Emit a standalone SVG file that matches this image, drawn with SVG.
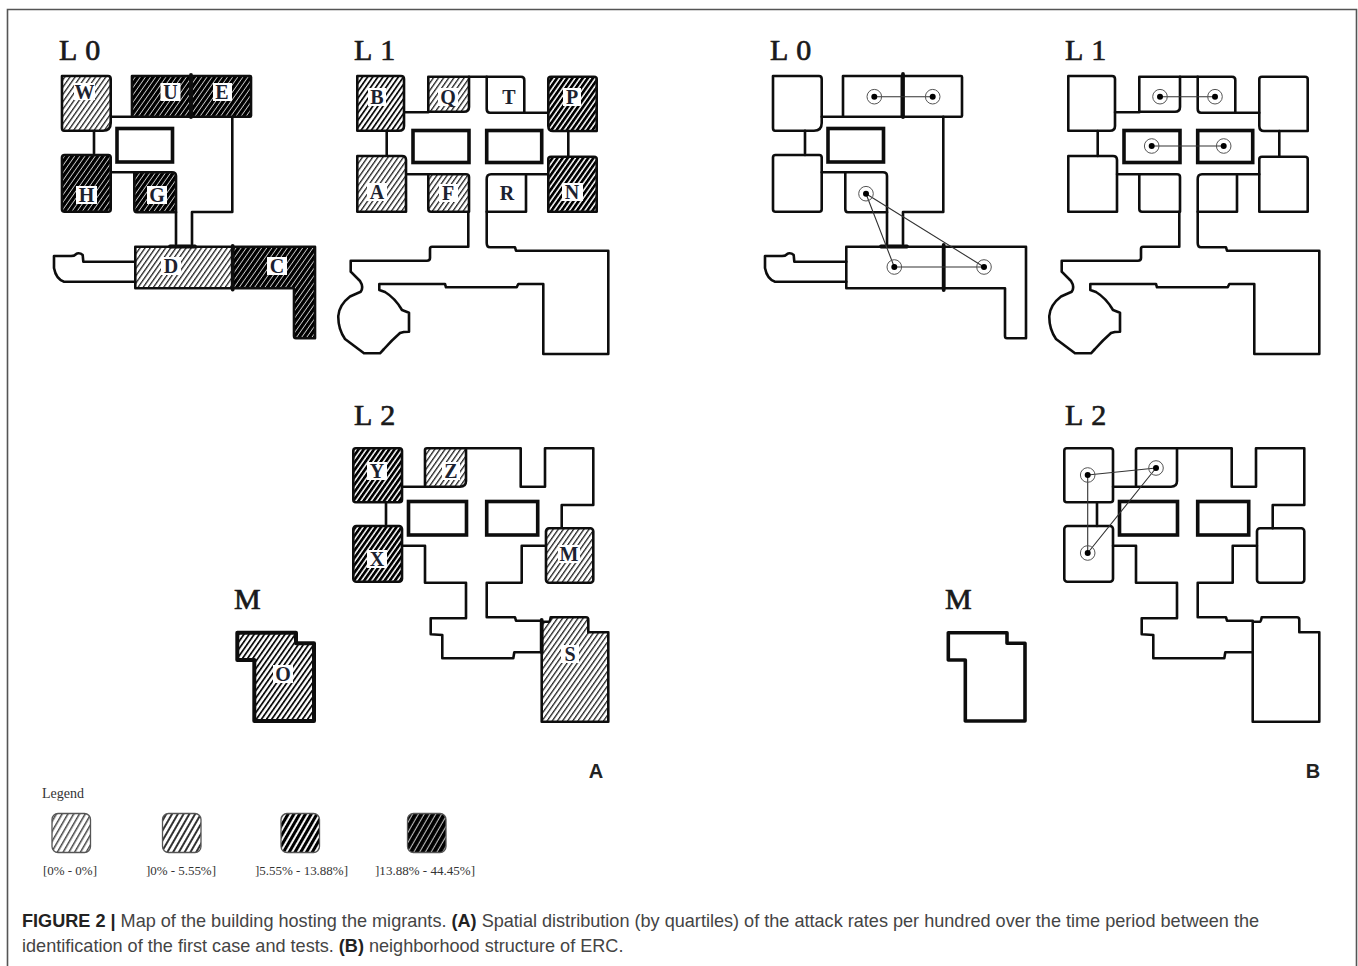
<svg xmlns="http://www.w3.org/2000/svg" width="1358" height="966" viewBox="0 0 1358 966">
<style>
.wall{fill:none;stroke:#111;stroke-width:2.6;stroke-linejoin:round;stroke-linecap:round}
.thick{fill:none;stroke:#0a0a0a;stroke-width:3.6;stroke-linejoin:miter}
.bar{fill:none;stroke:#0a0a0a;stroke-width:3.8}
.soft{filter:url(#soft)}
.head{font-family:"Liberation Serif",serif;font-size:30px;letter-spacing:.8px;fill:#1a1a1a;stroke:#1a1a1a;stroke-width:.7}
.lab{font-family:"Liberation Serif",serif;font-weight:bold;font-size:20px;fill:#1c2230;text-anchor:middle}
.box{fill:#fff}
.leg{font-family:"Liberation Serif",serif;font-size:13px;fill:#333}
.pan{font-family:"Liberation Sans",sans-serif;font-weight:bold;font-size:20px;fill:#222;text-anchor:middle}
.cap{font-family:"Liberation Sans",sans-serif;font-size:18.1px;fill:#444}
.cap .b{font-weight:bold;fill:#222}
.edge{stroke:#333;stroke-width:1.1;fill:none}
.ring{fill:none;stroke:#555;stroke-width:1}
.dot{fill:#000}
.sw{stroke:#555;stroke-width:1.3}
</style>
<defs>
<filter id="soft" x="-2%" y="-2%" width="104%" height="104%"><feGaussianBlur stdDeviation="0.45"/></filter>
<pattern id="h0" width="4.200" height="4.200" patternUnits="userSpaceOnUse" patternTransform="rotate(35)"><rect width="4.200" height="4.200" fill="#fff"/><rect width="1.300" height="4.200" fill="#222"/></pattern>
<pattern id="h1" width="4.200" height="4.200" patternUnits="userSpaceOnUse" patternTransform="rotate(35)"><rect width="4.200" height="4.200" fill="#fff"/><rect width="1.800" height="4.200" fill="#111"/></pattern>
<pattern id="h2" width="4.200" height="4.200" patternUnits="userSpaceOnUse" patternTransform="rotate(35)"><rect width="4.200" height="4.200" fill="#fff"/><rect width="2.700" height="4.200" fill="#000"/></pattern>
<pattern id="h3" width="4.200" height="4.200" patternUnits="userSpaceOnUse" patternTransform="rotate(35)"><rect width="4.200" height="4.200" fill="#ccc"/><rect width="3.300" height="4.200" fill="#000"/></pattern>
<pattern id="l0" width="5" height="5" patternUnits="userSpaceOnUse" patternTransform="rotate(30)"><rect width="5" height="5" fill="#fff"/><rect width="1.500" height="5" fill="#444"/></pattern>
<pattern id="l1" width="5" height="5" patternUnits="userSpaceOnUse" patternTransform="rotate(30)"><rect width="5" height="5" fill="#fff"/><rect width="2" height="5" fill="#333"/></pattern>
<pattern id="l2" width="5" height="5" patternUnits="userSpaceOnUse" patternTransform="rotate(30)"><rect width="5" height="5" fill="#fff"/><rect width="3.100" height="5" fill="#000"/></pattern>
<pattern id="l3" width="5" height="5" patternUnits="userSpaceOnUse" patternTransform="rotate(30)"><rect width="5" height="5" fill="#bbb"/><rect width="3.900" height="5" fill="#000"/></pattern>

<!-- room shapes -->
<path id="rW" d="M62 76H108Q110.700 76 110.700 79V123Q110.700 130.700 103 130.700H64Q62 130.700 62 128Z"/>
<rect id="rU" x="132" y="76" width="59" height="40.700"/>
<rect id="rE" x="191" y="76" width="60" height="40.700" rx="1"/>
<rect id="rH" x="62" y="155" width="48.700" height="56.700" rx="2.500"/>
<path id="rG" d="M134.300 172.300H172Q176 172.300 176 176V212.300H137Q134.300 212.300 134.300 209Z"/>
<rect id="rD" x="135.300" y="246.700" width="97.400" height="41.600"/>
<path id="rC" d="M232.700 246.700H315V338.300H296Q294 338.300 294 336V288.300H232.700Z"/>
<path id="rB" d="M357.300 76H401Q404 76 404 79V126Q404 130.700 399 130.700H357.300Z"/>
<path id="rQ" d="M428.300 76.700H469V107Q469 111.700 464 111.700H428.300Z"/>
<path id="rT" d="M486.700 76.700H521Q524.300 76.700 524.300 80V112.700H490Q486.700 112.700 486.700 109Z"/>
<path id="rP" d="M551 76.700H594Q596.700 76.700 596.700 79V131H553Q548.300 131 548.300 126V79Q548.300 76.700 551 76.700Z"/>
<path id="rA" d="M357.300 156H402Q406 156 406 160V211.700H357.300Z"/>
<path id="rF" d="M428.300 174.300H466Q469 174.300 469 177V211.700H431Q428.300 211.700 428.300 209Z"/>
<path id="rR" d="M491 174.300H526V211.700H486.700V179Q486.700 174.300 491 174.300Z"/>
<path id="rN" d="M551 156.700H594Q596.700 156.700 596.700 159V211.700H548.300V159Q548.300 156.700 551 156.700Z"/>
<rect id="rY" x="353.300" y="448.300" width="48.700" height="54" rx="2.500"/>
<path id="rZ" d="M427 448.300H466V481Q466 486.700 460 486.700H425V450Q425 448.300 427 448.300Z"/>
<rect id="rX" x="353.300" y="526" width="48.700" height="55.700" rx="3"/>
<rect id="rM" x="546" y="528.300" width="47.300" height="54.400" rx="3"/>
<path id="rS" d="M541.700 621.700H549Q550 621.700 550.700 617.300H586Q588.300 617.300 588.300 620V632.300H608.300V721.700H541.700Z"/>
<path id="rO" d="M237.300 632.700H296V643.300H314V721H254.300V660H237.300Z"/>

<!-- corridors and fixed walls -->
<g id="w0">
<path d="M110.700 116.700H132M94 130.700V155M110.700 172.300H134.300"/>
<path d="M176 212V246.700M232.300 116.700V212H192V246.700"/>
<path d="M135.300 261.700H83.300L82.700 255Q80 252.500 77 253.500Q74 256.500 70 256H54V268Q56 279 64 281.700H135.300"/>
</g>
<g id="w1">
<path d="M404 112.300H428.300M524.300 112.700H548.300M386.700 131V156M568.300 131V156.700M406 174.300H428.300M526 174.300H548.300M469 76.700H486.700"/>
<path d="M468.300 211.700V246.700H432Q430 246.700 430 249V258Q430 260.700 427 260.700H350.700V271.700L360 281Q364 287 360.700 291.700L350 296.500Q339 305 338.300 316Q338 329 345 339L361 351L364 353.300H380L384 349Q392 340 400 333Q403 331.700 409 331.700V312.700L402 310Q395 298 385 292L379.300 290V284H445L446 287.300H516.700L518.300 284H543.300V354H608.300V250.700H516L515 247.300H490Q486.700 247.300 486.700 243V211.700"/>
</g>
<g id="w2">
<path d="M402 486.700H425M386 502.300V526"/>
<path d="M466 448.300H520.700V486.700H545V448.300H593.300V505H561.700V528.300"/>
<path d="M402 545.700H425V582.700H466V618.300H430.700V634.300L442.300 635V658.300H513.300L514.300 652.300H541.700"/>
<path d="M546 545.700H521.700V582.700H486.700V617.300H515L516 620.700H541.700"/>
</g>
</defs>

<!-- frame -->
<path d="M7.500 966V9.500H1356.500V966" fill="none" stroke="#555" stroke-width="1.600"/>

<!-- Panel A: attack rate map -->
<g id="panel-a-plan" class="soft">
<g id="a-l0" class="wall">
<use href="#w0"/>
<use href="#rW" fill="url(#h0)"/><use href="#rU" fill="url(#h3)"/><use href="#rE" fill="url(#h3)"/>
<use href="#rH" fill="url(#h3)"/><use href="#rG" fill="url(#h3)"/><use href="#rD" fill="url(#h0)"/><use href="#rC" fill="url(#h3)"/>
<rect x="117" y="128.500" width="55.500" height="33.500" class="thick"/>
<path class="bar" d="M191 75V117M232.700 246V289.500M170 246.500H195"/>
</g>
<g id="a-l1" class="wall">
<use href="#w1"/>
<use href="#rB" fill="url(#h1)"/><use href="#rQ" fill="url(#h0)"/><use href="#rT"/><use href="#rP" fill="url(#h2)"/>
<use href="#rA" fill="url(#h0)"/><use href="#rF" fill="url(#h0)"/><use href="#rR"/><use href="#rN" fill="url(#h2)"/>
<rect x="413" y="130.500" width="56" height="32" class="thick"/>
<rect x="486.700" y="130.500" width="55" height="32" class="thick"/>
</g>
<g id="a-l2" class="wall">
<use href="#w2"/>
<use href="#rY" fill="url(#h2)"/><use href="#rZ" fill="url(#h0)"/><use href="#rX" fill="url(#h2)"/><use href="#rM" fill="url(#h0)"/><use href="#rS" fill="url(#h0)"/>
<rect x="408.500" y="501.500" width="58" height="33.500" class="thick"/>
<rect x="486.700" y="501.500" width="51" height="33.500" class="thick"/>
<path class="bar" d="M541.700 620V652"/>
</g>
<g id="a-m" class="wall" style="stroke-width:4"><use href="#rO" fill="url(#h1)"/></g>
</g>

<!-- room labels -->
<g id="room-labels">
<g id="label-W"><rect class="box" x="74" y="83" width="21" height="17"/><text class="lab" x="84.500" y="98.500">W</text></g>
<g id="label-U"><rect class="box" x="160.500" y="83" width="20" height="18"/><text class="lab" x="170.500" y="98.500">U</text></g>
<g id="label-E"><rect class="box" x="213" y="83" width="19" height="18"/><text class="lab" x="222" y="98.500">E</text></g>
<g id="label-H"><rect class="box" x="76" y="186" width="21" height="18"/><text class="lab" x="86.500" y="201.500">H</text></g>
<g id="label-G"><rect class="box" x="147" y="186" width="20" height="18"/><text class="lab" x="157" y="201.500">G</text></g>
<g id="label-D"><rect class="box" x="161" y="257" width="20" height="18"/><text class="lab" x="171" y="273">D</text></g>
<g id="label-C"><rect class="box" x="267" y="257" width="20" height="18"/><text class="lab" x="277" y="273">C</text></g>
<g id="label-B"><rect class="box" x="368" y="88" width="18" height="18"/><text class="lab" x="377" y="103.500">B</text></g>
<g id="label-Q"><rect class="box" x="438" y="88" width="20" height="18"/><text class="lab" x="448" y="103.500">Q</text></g>
<text class="lab" x="509" y="103.500">T</text>
<g id="label-P"><rect class="box" x="563" y="88" width="18" height="18"/><text class="lab" x="572" y="103.500">P</text></g>
<g id="label-A"><rect class="box" x="367" y="183" width="20" height="18"/><text class="lab" x="377" y="199">A</text></g>
<g id="label-F"><rect class="box" x="439" y="184" width="19" height="18"/><text class="lab" x="448" y="200">F</text></g>
<text class="lab" x="507" y="200">R</text>
<g id="label-N"><rect class="box" x="562" y="183" width="21" height="18"/><text class="lab" x="572" y="199">N</text></g>
<g id="label-Y"><rect class="box" x="367" y="462" width="20" height="18"/><text class="lab" x="377" y="478">Y</text></g>
<g id="label-Z"><rect class="box" x="442" y="462" width="18" height="18"/><text class="lab" x="451" y="478">Z</text></g>
<g id="label-X"><rect class="box" x="367" y="550" width="20" height="18"/><text class="lab" x="377" y="566">X</text></g>
<g id="label-M"><rect class="box" x="558" y="545" width="22" height="18"/><text class="lab" x="569" y="561">M</text></g>
<g id="label-S"><rect class="box" x="561" y="645" width="18" height="18"/><text class="lab" x="570" y="661">S</text></g>
<g id="label-O"><rect class="box" x="273" y="665" width="20" height="18"/><text class="lab" x="283" y="681">O</text></g>
</g>

<!-- Panel B: outlines -->
<g id="panel-b-plan" class="soft" transform="translate(711 0)">
<g id="b-l0" class="wall">
<use href="#w0"/>
<use href="#rW"/><use href="#rU"/><use href="#rE"/><use href="#rH"/><use href="#rG"/><use href="#rD"/><use href="#rC"/>
<rect x="117" y="128.500" width="55.500" height="33.500" class="thick"/>
<path class="bar" d="M192 74V117M232.700 245V290M170 246.500H196"/>
</g>
<g id="b-l1" class="wall">
<use href="#w1"/>
<use href="#rB"/><use href="#rQ"/><use href="#rT"/><use href="#rP"/><use href="#rA"/><use href="#rF"/><use href="#rR"/><use href="#rN"/>
<rect x="413" y="130.500" width="56" height="32" class="thick"/>
<rect x="486.700" y="130.500" width="55" height="32" class="thick"/>
</g>
<g id="b-l2" class="wall">
<use href="#w2"/>
<use href="#rY"/><use href="#rZ"/><use href="#rX"/><use href="#rM"/><use href="#rS"/>
<rect x="408.500" y="501.500" width="58" height="33.500" class="thick"/>
<rect x="486.700" y="501.500" width="51" height="33.500" class="thick"/>
</g>
<g id="b-m" class="wall" style="stroke-width:3.600"><use href="#rO"/></g>
</g>

<!-- neighbourhood connectors -->
<g id="connectors">
<path class="edge" d="M874.300 96.700H932.700M866 193.700L894.300 267M866 193.700L984 267M894.300 267H984"/>
<path class="edge" d="M1160 96.700H1215M1151.700 146H1223.700"/>
<path class="edge" d="M1087.700 475L1156 468M1087.700 475V553M1087.700 553L1156 468"/>
</g>

<!-- neighbourhood nodes -->
<g id="nodes">
<g id="n1"><circle class="ring" cx="874.300" cy="96.700" r="7.300"/><circle class="dot" cx="874.300" cy="96.700" r="3"/></g>
<g id="n2"><circle class="ring" cx="932.700" cy="96.700" r="7.300"/><circle class="dot" cx="932.700" cy="96.700" r="3"/></g>
<g id="n3"><circle class="ring" cx="866" cy="193.700" r="7.300"/><circle class="dot" cx="866" cy="193.700" r="3"/></g>
<g id="n4"><circle class="ring" cx="894.300" cy="267" r="7.300"/><circle class="dot" cx="894.300" cy="267" r="3"/></g>
<g id="n5"><circle class="ring" cx="984" cy="267" r="7.300"/><circle class="dot" cx="984" cy="267" r="3"/></g>
<g id="n6"><circle class="ring" cx="1160" cy="96.700" r="7.300"/><circle class="dot" cx="1160" cy="96.700" r="3"/></g>
<g id="n7"><circle class="ring" cx="1215" cy="96.700" r="7.300"/><circle class="dot" cx="1215" cy="96.700" r="3"/></g>
<g id="n8"><circle class="ring" cx="1151.700" cy="146" r="7.300"/><circle class="dot" cx="1151.700" cy="146" r="3"/></g>
<g id="n9"><circle class="ring" cx="1223.700" cy="146" r="7.300"/><circle class="dot" cx="1223.700" cy="146" r="3"/></g>
<g id="n10"><circle class="ring" cx="1087.700" cy="475" r="7.300"/><circle class="dot" cx="1087.700" cy="475" r="3"/></g>
<g id="n11"><circle class="ring" cx="1156" cy="468" r="7.300"/><circle class="dot" cx="1156" cy="468" r="3"/></g>
<g id="n12"><circle class="ring" cx="1087.700" cy="553" r="7.300"/><circle class="dot" cx="1087.700" cy="553" r="3"/></g>
</g>

<!-- headings -->
<g id="headings">
<text class="head" x="59" y="60">L 0</text>
<text class="head" x="354" y="60">L 1</text>
<text class="head" x="354" y="425">L 2</text>
<text class="head" x="234" y="609">M</text>
<text class="head" x="770" y="60">L 0</text>
<text class="head" x="1065" y="60">L 1</text>
<text class="head" x="1065" y="425">L 2</text>
<text class="head" x="945" y="609">M</text>
<text class="pan" x="596" y="778">A</text>
<text class="pan" x="1313" y="778">B</text>
</g>

<!-- legend -->
<g id="legend">
<text class="leg" x="42" y="798" font-size="14" style="font-size:14px">Legend</text>
<g class="soft">
<rect class="sw" x="52" y="813.500" width="38.500" height="39" rx="6" fill="url(#l0)"/>
<rect class="sw" x="162.500" y="813.500" width="38.500" height="39" rx="6" fill="url(#l1)"/>
<rect class="sw" x="281" y="813.500" width="38.500" height="39" rx="6" fill="url(#l2)"/>
<rect class="sw" x="407.500" y="813.500" width="38.500" height="39" rx="6" fill="url(#l3)"/>
</g>
<text class="leg" x="43" y="875" textLength="54">[0% - 0%]</text>
<text class="leg" x="146" y="875" textLength="70">]0% - 5.55%]</text>
<text class="leg" x="255" y="875" textLength="93">]5.55% - 13.88%]</text>
<text class="leg" x="375" y="875" textLength="100">]13.88% - 44.45%]</text>
</g>

<!-- caption -->
<g id="caption">
<text class="cap" x="22" y="927"><tspan class="b">FIGURE 2 |</tspan> Map of the building hosting the migrants. <tspan class="b">(A)</tspan> Spatial distribution (by quartiles) of the attack rates per hundred over the time period between the</text>
<text class="cap" x="22" y="952">identification of the first case and tests. <tspan class="b">(B)</tspan> neighborhood structure of ERC.</text>
</g>
</svg>
